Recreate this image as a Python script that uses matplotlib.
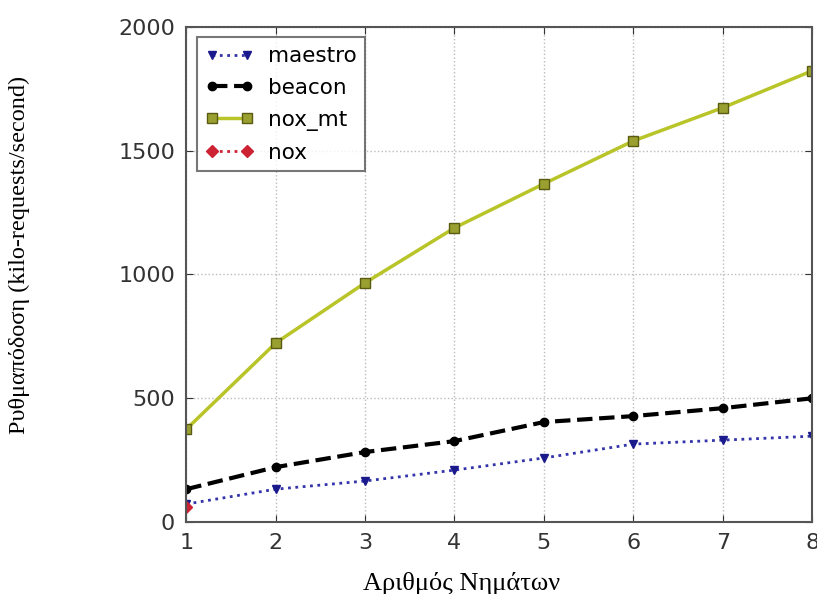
import matplotlib
matplotlib.use('Agg')
import matplotlib.pyplot as plt

threads = [1, 2, 3, 4, 5, 6, 7, 8]
maestro = [73, 133, 166, 210, 259, 315, 331, 347]
beacon = [133, 222, 283, 327, 404, 428, 460, 500]
nox_mt = [375, 723, 966, 1188, 1366, 1539, 1673, 1822]
nox_x = [1]
nox = [62]

fig = plt.figure(figsize=(8.17, 5.94), dpi=100)
ax = fig.add_axes([0.228, 0.121, 0.766, 0.834])

ax.plot(threads, maestro, linestyle=':', color='#3333aa', lw=2, marker='v',
        markersize=6, markerfacecolor='#1a1a8c', markeredgecolor='#1a1a8c', label='maestro')
ax.plot(threads, beacon, linestyle='--', color='black', lw=3, marker='o',
        markersize=6, markerfacecolor='black', label='beacon')
ax.plot(threads, nox_mt, linestyle='-', color='#b8c428', lw=2.5, marker='s',
        markersize=6.5, markerfacecolor='#9aa030', markeredgecolor='#5a5a10', label='nox_mt')
ax.plot(nox_x, nox, linestyle=':', color='#cc2233', lw=2, marker='D',
        markersize=6, markerfacecolor='#cc2233', markeredgecolor='#cc2233', label='nox')

ax.set_xlim(1, 8)
ax.set_ylim(0, 2000)
ax.set_xticks(threads)
ax.set_yticks([0, 500, 1000, 1500, 2000])
ax.grid(True, linestyle=':', color='#bbbbbb', lw=1)
ax.tick_params(direction='in', labelsize=16, length=5, pad=8, top=True, right=True, colors='#333333')
for s in ax.spines.values():
    s.set_color('#555555')
    s.set_linewidth(1.5)

ax.set_xlabel('Αριθμός Νημάτων', family='Liberation Serif', fontsize=19)
ax.xaxis.set_label_coords(0.44, -0.1)
ax.set_ylabel('Ρυθμαπόδοση (kilo-requests/second)', family='Liberation Serif', fontsize=17.5)
ax.yaxis.set_label_coords(-0.25, 0.54)

leg = ax.legend(loc='upper left', fontsize=15.5, fancybox=False, handlelength=2.2, numpoints=2,
                borderaxespad=0.5, labelspacing=0.55, handletextpad=0.7)
leg.get_frame().set_edgecolor('#555555')
leg.get_frame().set_linewidth(1.5)

fig.savefig('out.png', dpi=100)
